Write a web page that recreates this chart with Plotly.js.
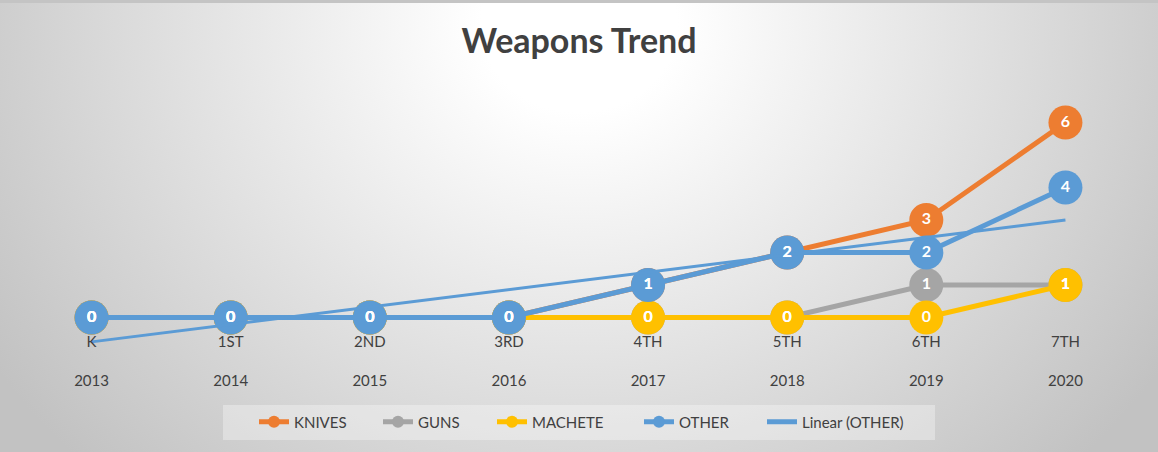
<!DOCTYPE html>
<html>
<head>
<meta charset="utf-8">
<script src="https://cdn.plot.ly/plotly-3.0.1.min.js"></script>
<style>
  html, body { margin: 0; padding: 0; }
  #wrap {
    width: 1158px; height: 452px; box-sizing: border-box;
    border-top: 3px solid #c4c4c4;
    background: radial-gradient(ellipse 700px 620px at 50% 5%, #ffffff 0%, #ffffff 14%, #c2c2c2 100%);
  }
  #chart { width: 1158px; height: 449px; }
</style>
</head>
<body>
<div id="wrap"><div id="chart"></div></div>
<script>
// ---- data ----
const years    = ['2013', '2014', '2015', '2016', '2017', '2018', '2019', '2020'];
const ordinals = ['K', '1ST', '2ND', '3RD', '4TH', '5TH', '6TH', '7TH'];
const knives   = [0, 0, 0, 0, 1, 2, 3, 6];
const guns     = [0, 0, 0, 0, 0, 0, 1, 1];
const machete  = [0, 0, 0, 0, 0, 0, 0, 1];
const other    = [0, 0, 0, 0, 1, 2, 2, 4];

// ---- linear trendline of OTHER (least squares, x = 1..n) ----
function linearFit(vals) {
  const n = vals.length;
  const xs = vals.map((_, i) => i + 1);
  const mx = xs.reduce((a, b) => a + b, 0) / n;
  const my = vals.reduce((a, b) => a + b, 0) / n;
  let sxy = 0, sxx = 0;
  xs.forEach((x, i) => { sxy += (x - mx) * (vals[i] - my); sxx += (x - mx) * (x - mx); });
  const slope = sxy / sxx, icpt = my - slope * mx;
  return xs.map(x => icpt + slope * x);
}
const trend = linearFit(other);

const W = 1158, H = 449;
const FONT = 'Lato, "Open Sans", sans-serif';
const series = [
  { name: 'KNIVES',  y: knives,  color: '#ED7D31' },
  { name: 'GUNS',    y: guns,    color: '#A5A5A5' },
  { name: 'MACHETE', y: machete, color: '#FFC000' },
  { name: 'OTHER',   y: other,   color: '#5B9BD5' }
];
// left pixel where each legend entry's text starts
const legendTextX = [294, 418, 532, 679, 802];

const traces = [];
series.forEach((s, i) => {
  traces.push({
    type: 'scatter', mode: 'lines+markers', name: s.name,
    x: years, y: s.y,
    line: { color: s.color, width: 5 },
    marker: { color: s.color, size: 34 },
    cliponaxis: false, hoverinfo: 'name+y',
    legend: i === 0 ? 'legend' : 'legend' + (i + 1)
  });
});
traces.push({
  type: 'scatter', mode: 'lines', name: 'Linear (OTHER)',
  x: years, y: trend,
  line: { color: '#5B9BD5', width: 3 },
  hoverinfo: 'skip', legend: 'legend5'
});
series.forEach(s => {
  traces.push({
    type: 'scatter', mode: 'text', showlegend: false,
    x: years, y: s.y, text: s.y.map(String),
    textposition: 'middle center',
    textfont: { family: FONT, size: 16, color: '#ffffff', weight: 'bold' },
    cliponaxis: false, hoverinfo: 'skip'
  });
});

const margin = { l: 22, r: 23, t: 87, b: 102 };
const plotH = H - margin.t - margin.b;
const plotW = W - margin.l - margin.r;
const px2paperX = px => (px - margin.l) / plotW;
const py2paperY = py => (H - margin.b - (py - 3)) / plotH; // py = screen y

const layout = {
  width: W, height: H,
  paper_bgcolor: 'rgba(0,0,0,0)', plot_bgcolor: 'rgba(0,0,0,0)',
  margin: margin,
  font: { family: FONT, color: '#404040', size: 15 },
  title: {
    text: '<b>Weapons Trend</b>',
    font: { family: FONT, size: 34, color: '#404040' },
    x: 0.5, xanchor: 'center', yref: 'container', y: 1 - 38 / H, yanchor: 'middle'
  },
  xaxis: {
    type: 'category',
    range: [-0.5, years.length - 0.5],
    tickvals: years,
    ticktext: years.map((y, i) => ordinals[i] + '<br><br>' + y),
    anchor: 'free', position: 1 / 8,
    showgrid: false, zeroline: false, showline: false,
    ticks: 'outside', ticklen: 10, tickcolor: 'rgba(0,0,0,0)',
    tickfont: { family: FONT, size: 15, color: '#404040' }
  },
  yaxis: { range: [-1, 7], visible: false, showgrid: false, zeroline: false },
  showlegend: true,
  shapes: [{
    type: 'rect', xref: 'paper', yref: 'paper', layer: 'below',
    x0: px2paperX(223), x1: px2paperX(935),
    y0: py2paperY(405), y1: py2paperY(440),
    fillcolor: 'rgba(255,255,255,0.32)', line: { width: 0 }
  }]
};
legendTextX.forEach((tx, i) => {
  const key = i === 0 ? 'legend' : 'legend' + (i + 1);
  layout[key] = {
    orientation: 'h', xref: 'container', x: (tx - 40) / W, xanchor: 'left',
    yref: 'container', y: 1 - (422 - 3) / H, yanchor: 'middle',
    bgcolor: 'rgba(0,0,0,0)', borderwidth: 0,
    font: { family: FONT, size: 15, color: '#404040' },
    itemsizing: 'constant'
  };
});

Plotly.newPlot('chart', traces, layout, { displayModeBar: false, staticPlot: true });
</script>
</body>
</html>
